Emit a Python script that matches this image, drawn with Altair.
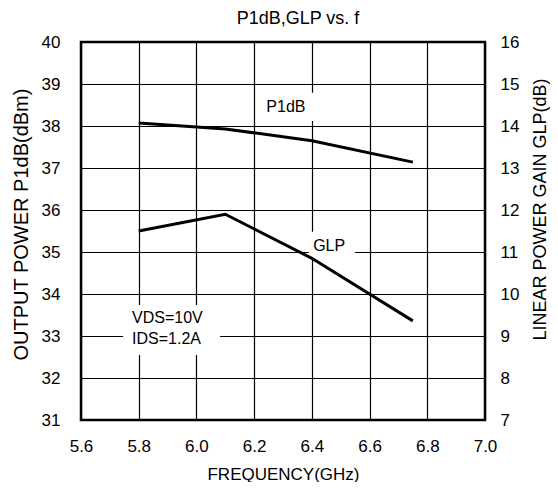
import altair as alt
import pandas as pd

# ---- data ----
freq = [5.8, 6.1, 6.4, 6.75]
p1db = [38.07, 37.93, 37.65, 37.14]
glp = [11.5, 11.9, 10.85, 9.36]

x_ticks = [5.6, 5.8, 6.0, 6.2, 6.4, 6.6, 6.8, 7.0]
left_ticks = [31, 32, 33, 34, 35, 36, 37, 38, 39, 40]
right_ticks = [7, 8, 9, 10, 11, 12, 13, 14, 15, 16]

note_text = ["P1dB", "GLP"]
note_x = [6.31, 6.46]
note_y = [38.45, 35.15]

cond_text = ["VDS=10V", "IDS=1.2A"]
cond_x = [5.777, 5.777]
cond_y = [33.43, 32.93]

box_x = [6.21, 6.39, 5.746]
box_x2 = [6.41, 6.55, 6.082]
box_y = [38.79, 35.48, 33.74]
box_y2 = [38.12, 34.82, 32.55]

FONT = "Liberation Sans"

lines_df = pd.DataFrame({"f": freq, "p1db": p1db, "glp": glp})
notes_df = pd.DataFrame({"f": note_x, "v": note_y, "t": note_text})
cond_df = pd.DataFrame({"f": cond_x, "v": cond_y, "t": cond_text})
box_df = pd.DataFrame({"f": box_x, "f2": box_x2, "v": box_y, "v2": box_y2})

x_scale = alt.Scale(domain=[5.6, 7.0], nice=False, zero=False)
x_axis = alt.Axis(values=x_ticks, format=".1f", title="FREQUENCY(GHz)", grid=True,
                  ticks=False, domain=False, labelPadding=18, titlePadding=12,
                  labelFlush=False)

left_scale = alt.Scale(domain=[31, 40], nice=False, zero=False)
left_axis = alt.Axis(values=left_ticks, format="d", title="OUTPUT POWER P1dB(dBm)",
                     grid=True, ticks=False, domain=False, labelPadding=21,
                     orient="left", titleFontSize=20, titleBaseline="middle",
                     titleX=-60, titleY=182)
right_scale = alt.Scale(domain=[7, 16], nice=False, zero=False)
right_axis = alt.Axis(values=right_ticks, format="d", title="LINEAR POWER GAIN GLP(dB)",
                      grid=False, ticks=False, domain=False, labelPadding=15,
                      orient="right", titleFontSize=18, titleAngle=270,
                      titleBaseline="middle", titleX=55, titleY=167)

boxes = alt.Chart(box_df).mark_rect(fill="white").encode(
    x=alt.X("f:Q", scale=x_scale, axis=x_axis),
    x2="f2:Q",
    y=alt.Y("v:Q", scale=left_scale, axis=left_axis),
    y2="v2:Q",
)

notes = alt.Chart(notes_df).mark_text(font=FONT, fontSize=16, color="black").encode(
    x=alt.X("f:Q", scale=x_scale, axis=x_axis),
    y=alt.Y("v:Q", scale=left_scale, axis=left_axis),
    text="t:N",
)

cond = alt.Chart(cond_df).mark_text(font=FONT, fontSize=16, color="black", align="left").encode(
    x=alt.X("f:Q", scale=x_scale, axis=x_axis),
    y=alt.Y("v:Q", scale=left_scale, axis=left_axis),
    text="t:N",
)

p1_line = alt.Chart(lines_df).mark_line(color="black", strokeWidth=3).encode(
    x=alt.X("f:Q", scale=x_scale, axis=x_axis),
    y=alt.Y("p1db:Q", scale=left_scale, axis=left_axis),
)

left_layer = alt.layer(boxes, notes, cond, p1_line)

glp_line = alt.Chart(lines_df).mark_line(color="black", strokeWidth=3).encode(
    x=alt.X("f:Q", scale=x_scale, axis=x_axis),
    y=alt.Y("glp:Q", scale=right_scale, axis=right_axis),
)

chart = alt.layer(left_layer, glp_line).resolve_scale(y="independent").properties(
    width=404,
    height=378,
    background="white",
    autosize=alt.AutoSizeParams(type="none"),
    padding={"left": 73, "top": 34, "right": 65, "bottom": 62},
    title=alt.TitleParams("P1dB,GLP vs. f", font=FONT, fontSize=18, fontWeight="normal",
                          color="black", offset=5, anchor="middle", dx=15),
).configure_view(
    stroke="black", strokeWidth=2.5
).configure_axis(
    gridColor="black", gridWidth=1.2, gridOpacity=1,
    labelFont=FONT, labelFontSize=17, labelColor="black",
    titleFont=FONT, titleFontSize=17, titleFontWeight="normal", titleColor="black",
)

chart.save("out.html", embed_options={"renderer": "svg", "actions": False})
